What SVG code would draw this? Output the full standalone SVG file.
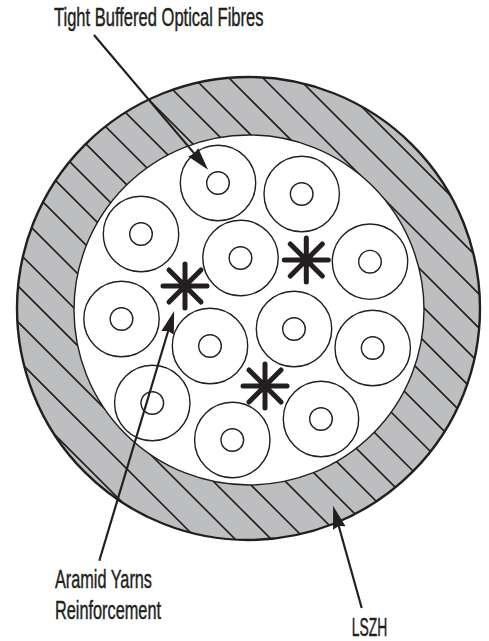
<svg xmlns="http://www.w3.org/2000/svg" width="489" height="641" viewBox="0 0 489 641">
  <style>
    .hatch { stroke: #231f20; stroke-width: 1.6; fill: none; }
    .ring { fill: #fff; stroke: #231f20; stroke-width: 1.4; }
    .arm { stroke: #231f20; stroke-width: 5; stroke-linecap: round; fill: none; }
    .arrow { stroke: #231f20; stroke-width: 2.2; fill: none; marker-end: url(#head); }
    text { font-family: "Liberation Sans", Arial, sans-serif; font-size: 25px; fill: #231f20; stroke: #231f20; stroke-width: 0.45; }
  </style>
  <defs>
    <marker id="head" markerUnits="userSpaceOnUse" markerWidth="25" markerHeight="16" refX="13" refY="7" orient="auto">
      <path d="M0,0.5 L23,7 L0,13.5 L2,7 Z" fill="#231f20"/>
    </marker>
    <clipPath id="sheathClip"><circle cx="248.5" cy="308.5" r="231.5"/></clipPath>
    <g id="fibre"><circle class="ring" r="37.7"/><circle class="ring" r="11.3"/></g>
    <g id="star">
      <path class="arm" d="M-22,0H22M0,-22V22M-16,-16L16,16M-16,16L16,-16"/>
    </g>
  </defs>

  <g id="sheath">
    <circle cx="248.5" cy="308.5" r="231.5" fill="#bcbec0"/>
    <g clip-path="url(#sheathClip)" class="hatch">
      <path d="M-20,360L240,620M-20,322L240,582M-20,284L300,604M-20,248L320,588M-20,214L340,574M-20,176L360,556M-20,139L380,539M-20,105L400,525M-20,72L420,512M-20,38L440,498M-20,1L460,481"/>
      <path d="M-20,-33L480,467M-20,-69L500,451M-20,-103L500,417M-20,-136L500,384M-20,-171L500,349M-20,-205L500,315M-20,-240L500,280M-20,-275L500,245"/>
    </g>
    <circle cx="248.5" cy="308.5" r="231.5" fill="none" stroke="#231f20" stroke-width="2.4"/>
  </g>

  <g id="core">
    <circle cx="249" cy="310" r="175" fill="#fff" stroke="#231f20" stroke-width="1.4"/>
  </g>

  <g id="fibre-1"><use href="#fibre" x="218" y="183"/></g>
  <g id="fibre-2"><use href="#fibre" x="141" y="234"/></g>
  <g id="fibre-3"><use href="#fibre" x="301.7" y="194"/></g>
  <g id="fibre-4"><use href="#fibre" x="370" y="261.7"/></g>
  <g id="fibre-5"><use href="#fibre" x="240.5" y="258"/></g>
  <g id="fibre-6"><use href="#fibre" x="121.5" y="319"/></g>
  <g id="fibre-7"><use href="#fibre" x="210" y="346"/></g>
  <g id="fibre-8"><use href="#fibre" x="294" y="329"/></g>
  <g id="fibre-9"><use href="#fibre" x="372.7" y="348"/></g>
  <g id="fibre-10"><use href="#fibre" x="152.3" y="403"/></g>
  <g id="fibre-11"><use href="#fibre" x="232.3" y="440"/></g>
  <g id="fibre-12"><use href="#fibre" x="321" y="419"/></g>

  <g id="yarn-1"><use href="#star" x="185" y="286"/></g>
  <g id="yarn-2"><use href="#star" x="306.3" y="260"/></g>
  <g id="yarn-3"><use href="#star" x="265" y="386"/></g>

  <g id="connectors">
    <path class="arrow" d="M94,35L201.6,162.1"/>
    <path class="arrow" d="M99.3,560.7L171.3,320.5"/>
    <path class="arrow" d="M361.7,608L335.8,515.5"/>
  </g>

  <g id="label-fibres"><text x="54" y="26" textLength="209.5" lengthAdjust="spacingAndGlyphs">Tight Buffered Optical Fibres</text></g>
  <g id="label-aramid">
    <text x="55" y="588" textLength="97" lengthAdjust="spacingAndGlyphs">Aramid Yarns</text>
    <text x="55" y="619" textLength="106" lengthAdjust="spacingAndGlyphs">Reinforcement</text>
  </g>
  <g id="label-lszh"><text x="351.7" y="636" textLength="35.5" lengthAdjust="spacingAndGlyphs">LSZH</text></g>
</svg>
